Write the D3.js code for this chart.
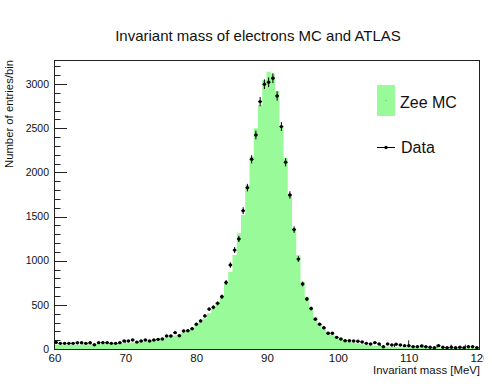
<!DOCTYPE html>
<html>
<head>
<meta charset="utf-8">
<script src="https://cdn.jsdelivr.net/npm/d3@7"></script>
<style>
  html, body { margin: 0; padding: 0; background: #fff; }
  svg { display: block; font-family: "Liberation Sans", Arial, Helvetica, sans-serif; }
</style>
</head>
<body>
<div id="chart"></div>
<script>
// histogram range and binning (100 bins, 60..120)
const xMin = 60;
const xMax = 120;
const nBins = 100;

// MC (Zee) bin contents
const mcCounts = [
  50, 50, 50, 51, 51, 52, 52, 53, 54, 55,
  56, 57, 59, 61, 63, 65, 68, 71, 75, 79,
  84, 89, 95, 102, 110, 119, 129, 140, 153, 168,
  185, 207, 234, 272, 309, 348, 404, 461, 536, 612,
  744, 875, 1065, 1310, 1517, 1857, 2178, 2500, 2763, 3046,
  3140, 3111, 2922, 2518, 2163, 1750, 1367, 1065, 762, 592,
  479, 366, 291, 234, 196, 165, 140, 118, 100, 86,
  74, 64, 55, 48, 42, 37, 33, 29, 26, 23,
  22, 21, 20, 19, 18, 18, 17, 16, 16, 15,
  15, 14, 14, 14, 13, 13, 13, 12, 12, 12
];

// ATLAS data bin contents
const dataCounts = [
  75, 64, 64, 64, 64, 70, 70, 64, 70, 48,
  72, 72, 72, 64, 64, 72, 91, 91, 102, 78,
  91, 102, 91, 102, 109, 113, 147, 147, 185, 150,
  204, 207, 230, 280, 318, 375, 452, 472, 517, 592,
  753, 951, 1120, 1246, 1566, 1827, 2148, 2423, 2801, 2998,
  3020, 3066, 2865, 2518, 2114, 1744, 1352, 1018, 736, 566,
  458, 338, 280, 240, 178, 178, 132, 113, 94, 94,
  91, 87, 80, 64, 57, 72, 57, 26, 57, 45,
  53, 45, 38, 38, 26, 26, 34, 26, 19, 15,
  38, 19, 15, 19, 15, 19, 15, 26, 26, 15
];

const xTicks = [60, 70, 80, 90, 100, 110, 120];
const yTicks = [0, 500, 1000, 1500, 2000, 2500, 3000];
const yMax = 3272;

////////////////////////////////////////////////////////////////////////////////////

const width = 492;
const height = 384;
const frame = { left: 54, right: 479, top: 60, bottom: 349 };
const mcColor = "rgb(153,250,153)";
const axisColor = "#222";

const binWidth = (xMax - xMin) / nBins;
const bins = d3.range(nBins).map((i) => ({
  lo: xMin + i * binWidth,
  hi: xMin + (i + 1) * binWidth,
  mid: xMin + (i + 0.5) * binWidth,
  mc: mcCounts[i],
  data: dataCounts[i]
}));

const x = d3.scaleLinear().domain([xMin, xMax]).range([frame.left, frame.right]);
const y = d3.scaleLinear().domain([0, yMax]).range([frame.bottom, frame.top]);

const svg = d3.select("#chart")
  .append("svg")
  .attr("width", width)
  .attr("height", height);

svg.append("defs")
  .append("clipPath")
  .attr("id", "label-clip")
  .append("rect")
  .attr("x", 0).attr("y", 0)
  .attr("width", 484).attr("height", height);

////////////////////////////////////////////////////////////////////////////////////
// x ticks (drawn under the histogram)

const xMinor = d3.range(xMin, xMax + 0.001, 2);
svg.append("g")
  .selectAll("line")
  .data(xMinor)
  .enter()
  .append("line")
  .attr("x1", (d) => x(d) + 0.5)
  .attr("x2", (d) => x(d) + 0.5)
  .attr("y1", frame.bottom)
  .attr("y2", (d) => frame.bottom - ((d - xMin) % 10 === 0 ? 8.7 : 4.4))
  .style("stroke", axisColor)
  .style("stroke-width", 1);

////////////////////////////////////////////////////////////////////////////////////
// MC histogram

const stepPts = bins.map((b) => [b.lo, b.mc]);
stepPts.push([xMax, mcCounts[nBins - 1]]);

const area = d3.area()
  .x((d) => x(d[0]))
  .y0(y(0))
  .y1((d) => y(d[1]))
  .curve(d3.curveStepAfter);

svg.append("path")
  .datum(stepPts)
  .attr("d", area)
  .style("fill", mcColor)
  .style("stroke", "none");

////////////////////////////////////////////////////////////////////////////////////
// frame and y ticks

svg.append("rect")
  .attr("x", frame.left + 0.5)
  .attr("y", frame.top + 0.5)
  .attr("width", frame.right - frame.left)
  .attr("height", frame.bottom - frame.top)
  .style("fill", "none")
  .style("stroke", axisColor)
  .style("stroke-width", 1);

const yMinor = d3.range(0, yMax, 100);
svg.append("g")
  .selectAll("line")
  .data(yMinor)
  .enter()
  .append("line")
  .attr("x1", frame.left)
  .attr("x2", (d) => frame.left + (d % 500 === 0 ? 13 : 6.5))
  .attr("y1", (d) => Math.round(y(d)) + 0.5)
  .attr("y2", (d) => Math.round(y(d)) + 0.5)
  .style("stroke", axisColor)
  .style("stroke-width", 1);

svg.append("g")
  .selectAll("text")
  .data(yTicks)
  .enter()
  .append("text")
  .attr("x", frame.left - 5)
  .attr("y", (d) => y(d))
  .attr("dy", "0.36em")
  .attr("text-anchor", "end")
  .style("font-size", "10.5px")
  .style("fill", "#111")
  .text((d) => d);

svg.append("g")
  .attr("clip-path", "url(#label-clip)")
  .selectAll("text")
  .data(xTicks)
  .enter()
  .append("text")
  .attr("x", (d) => x(d) + 1)
  .attr("y", 362)
  .attr("text-anchor", "middle")
  .style("font-size", "11.5px")
  .style("fill", "#111")
  .text((d) => d);

////////////////////////////////////////////////////////////////////////////////////
// data points with error bars

const pts = svg.append("g");

pts.selectAll("line.ey")
  .data(bins)
  .enter()
  .append("line")
  .attr("class", "ey")
  .attr("x1", (d) => x(d.mid))
  .attr("x2", (d) => x(d.mid))
  .attr("y1", (d) => y(d.data + Math.sqrt(d.data)))
  .attr("y2", (d) => y(Math.max(0, d.data - Math.sqrt(d.data))))
  .style("stroke", "#000")
  .style("stroke-width", 1);

pts.selectAll("line.ex")
  .data(bins)
  .enter()
  .append("line")
  .attr("class", "ex")
  .attr("x1", (d) => x(d.lo) + 0.3)
  .attr("x2", (d) => x(d.hi) - 0.3)
  .attr("y1", (d) => y(d.data))
  .attr("y2", (d) => y(d.data))
  .style("stroke", "#000")
  .style("stroke-width", 1);

pts.selectAll("circle")
  .data(bins)
  .enter()
  .append("circle")
  .attr("cx", (d) => x(d.mid))
  .attr("cy", (d) => y(d.data))
  .attr("r", 1.7)
  .style("fill", "#000");

////////////////////////////////////////////////////////////////////////////////////
// titles

svg.append("text")
  .attr("x", 258)
  .attr("y", 41)
  .attr("text-anchor", "middle")
  .style("font-size", "15px")
  .style("fill", "#111")
  .text("Invariant mass of electrons MC and ATLAS");

svg.append("text")
  .attr("x", frame.right + 1)
  .attr("y", 374)
  .attr("text-anchor", "end")
  .style("font-size", "11.4px")
  .style("fill", "#111")
  .text("Invariant mass [MeV]");

svg.append("text")
  .attr("transform", `translate(12.5,${frame.top}) rotate(-90)`)
  .attr("text-anchor", "end")
  .style("font-size", "11.3px")
  .style("fill", "#111")
  .text("Number of entries/bin");

////////////////////////////////////////////////////////////////////////////////////
// legend

const legend = svg.append("g");

legend.append("rect")
  .attr("x", 377)
  .attr("y", 85)
  .attr("width", 18)
  .attr("height", 31)
  .style("fill", mcColor);

legend.append("circle")
  .attr("cx", 386)
  .attr("cy", 100.5)
  .attr("r", 0.6)
  .style("fill", "#5a5");

legend.append("text")
  .attr("x", 400)
  .attr("y", 107.5)
  .style("font-size", "16px")
  .style("fill", "#111")
  .text("Zee MC");

legend.append("line")
  .attr("x1", 377)
  .attr("x2", 395)
  .attr("y1", 147.5)
  .attr("y2", 147.5)
  .style("stroke", "#000")
  .style("stroke-width", 1);

legend.append("circle")
  .attr("cx", 386)
  .attr("cy", 147.5)
  .attr("r", 1.7)
  .style("fill", "#000");

legend.append("text")
  .attr("x", 401)
  .attr("y", 153)
  .style("font-size", "16px")
  .style("fill", "#111")
  .text("Data");
</script>
</body>
</html>
